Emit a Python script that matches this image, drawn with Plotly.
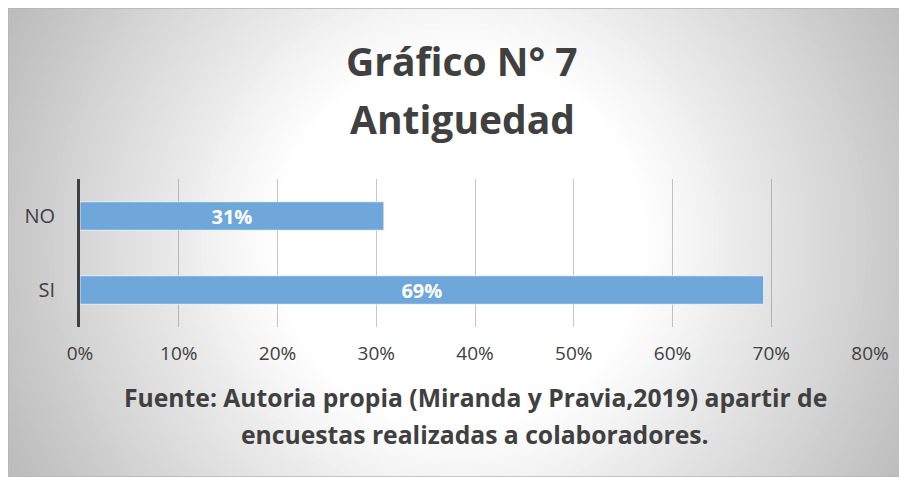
import plotly.graph_objects as go

# ---- data ----
categories = ["NO", "SI"]
values = [0.3077, 0.6923]
x_tick_vals = [0, 0.1, 0.2, 0.3, 0.4, 0.5, 0.6, 0.7, 0.8]
title_lines = ["Gráfico N° 7", "Antiguedad"]
caption_lines = ["Fuente: Autoria propia (Miranda y Pravia,2019) apartir de",
                 "encuestas realizadas a colaboradores."]

W, H = 899, 469
FONT = "Open Sans"

fig = go.Figure()
fig.add_trace(go.Bar(
    y=categories, x=values, orientation="h",
    marker=dict(color="#70a7db", line=dict(color="rgba(255,255,255,0.7)", width=1)),
    texttemplate="%{x:.0%}", textposition="inside", insidetextanchor="middle",
    constraintext="none",
    textfont=dict(family=FONT, size=20, color="white", weight="bold"),
    hoverinfo="skip", showlegend=False,
))

# radial gradient background (styling only)
shapes = []
cx, cy = 452, 234
r_in, r_out = 185, 540
steps = 72
for i in range(steps + 1):
    r = r_out - (r_out - r_in) * i / steps
    t = (r - r_in) / (500 - r_in)
    t = max(0.0, min(1.0, t))
    g = int(round(255 - 66 * t))
    shapes.append(dict(type="circle", xref="paper", yref="paper", layer="below",
                       x0=(cx - r) / W, x1=(cx + r) / W,
                       y0=1 - (cy + r) / H, y1=1 - (cy - r) / H,
                       fillcolor=f"rgb({g},{g},{g})", line=dict(width=0)))
shapes.append(dict(type="rect", xref="paper", yref="paper", layer="above",
                   x0=0, x1=1, y0=0, y1=1, line=dict(color="#b5b5b5", width=1.5),
                   fillcolor="rgba(0,0,0,0)"))

annotations = []
for txt, yp in zip(title_lines, [60, 119]):
    annotations.append(dict(text=txt, xref="paper", yref="paper", x=454 / W, y=1 - (yp - 8) / H,
                            xanchor="center", yanchor="middle", showarrow=False,
                            font=dict(family=FONT, size=39, color="#404040", weight="bold")))
for txt, yp in zip(caption_lines, [397, 434]):
    annotations.append(dict(text=txt, xref="paper", yref="paper", x=467 / W, y=1 - (yp - 8) / H,
                            xanchor="center", yanchor="middle", showarrow=False,
                            font=dict(family=FONT, size=24.7, color="#404040", weight="bold")))

fig.update_layout(
    width=W, height=H,
    margin=dict(l=0, r=0, t=0, b=0),
    paper_bgcolor="white", plot_bgcolor="rgba(0,0,0,0)",
    bargap=0.615,
    shapes=shapes, annotations=annotations,
    xaxis=dict(domain=[72 / W, 862 / W], range=[0, 0.8], tickvals=x_tick_vals,
               tickformat=".0%", showgrid=True, gridcolor="rgba(0,0,0,0.22)", gridwidth=1,
               zeroline=False, showline=False, ticks="", ticklabelstandoff=13,
               tickfont=dict(family=FONT, size=19, color="#404040"), automargin=False,
               fixedrange=True),
    yaxis=dict(domain=[1 - 319 / H, 1 - 171 / H], autorange="reversed",
               showline=True, linecolor="#404040", linewidth=3, showgrid=False,
               ticks="", ticklabelstandoff=18,
               tickfont=dict(family=FONT, size=20, color="#404040"), automargin=False,
               fixedrange=True),
)

fig.write_html("out.html")
